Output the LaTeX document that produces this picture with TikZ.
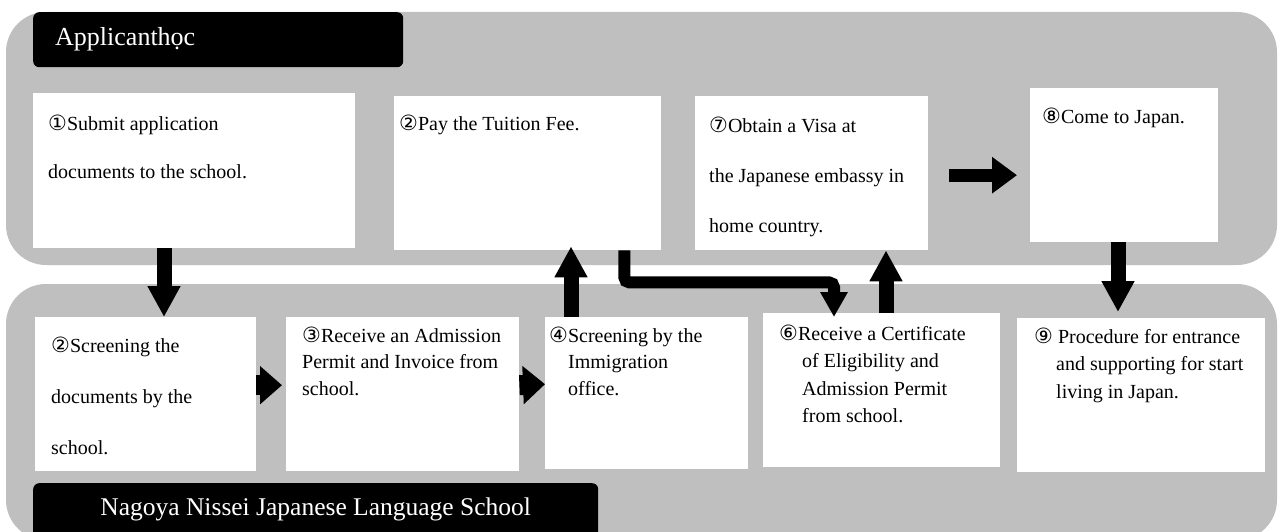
\documentclass[tikz,border=0pt]{standalone}
\usepackage{fontspec}
\setmainfont{Liberation Serif}
\newfontfamily\circfont{DejaVu Sans}
\usepackage{xcolor}
\usepackage{tikz}
\usetikzlibrary{arrows.meta, positioning, calc}
\definecolor{panelgray}{HTML}{BFBFBF}
\newcommand\cn[1]{{\fontsize{21}{21}\circfont #1}}
% width, height, left pad, first baseline, baselineskip, setup, text
\newcommand\cardtext[7]{\parbox[c][#2pt][t]{#1pt}{\fontsize{20}{#5}\selectfont
    \leftskip=#3pt \rightskip=0pt plus 1fil #6\rule{0pt}{#4pt}#7}}
\tikzset{
    panel/.style={fill=panelgray, rounded corners=40pt},
    card/.style={fill=white, anchor=north west, inner sep=0pt},
    tag/.style={fill=black, text=white, anchor=north west, inner sep=0pt, rounded corners=6pt},
    bigarr/.style={-{Triangle[length=31pt, width=31pt]}, line width=15pt},
    smallarr/.style={-{Triangle[length=22pt, width=37pt]}, line width=20pt},
    medarr/.style={-{Triangle[length=25pt, width=35pt]}, line width=13pt},
    elbowarr/.style={-{Triangle[length=25pt, width=26pt]}, line width=12pt, rounded corners=5pt}
}
\begin{document}
\begin{tikzpicture}[x=1pt, y=-1pt]
    \useasboundingbox (0,0) rectangle (1278,532);
    \clip (0,0) rectangle (1278,532);
    \fill[panel] (6,12) rectangle (1277,265);
    \fill[panel] (6,284) rectangle (1277,540);
    \node[tag] (appl) at (33,12) {\cardtext{370}{55}{22}{33}{30}{\fontsize{26}{30}\selectfont}{Applicanthọc}};
    \node[tag] (school) at (33,483) {\cardtext{565}{62}{0}{32}{30}{\fontsize{25.5}{30}\selectfont
        \leftskip=0pt plus 1fil\rightskip=0pt plus 1fil\parfillskip=0pt}{Nagoya Nissei Japanese Language School}};
    \node[card] (sub) at (33,93) {\cardtext{322}{155}{15}{37}{48}{}{\cn{①}Submit application\\documents to the school.}};
    \node[card] (pay) at (394,96) {\cardtext{267}{154}{5}{34}{48}{}{\cn{②}Pay the Tuition Fee.}};
    \node[card] (visa) at (695,96) {\cardtext{233}{154}{14}{36}{50}{}{\cn{⑦}Obtain a Visa at\\the Japanese embassy in\\home country.}};
    \node[card] (come) at (1030,88) {\cardtext{188}{154}{12}{35}{48}{}{\cn{⑧}Come to Japan.}};
    \node[card] (scr) at (35,317) {\cardtext{221}{154}{16}{35}{51}{}{\cn{②}Screening the\\documents by the\\school.}};
    \node[card] (rcv) at (286,317) {\cardtext{233}{154}{16}{25}{26.5}{}{\cn{③}Receive an Admission\\Permit and Invoice from\\school.}};
    \node[card] (imm) at (545,317) {\cardtext{203}{152}{4}{25}{26.5}{\hangindent=19pt\hangafter=1 }{\cn{④}Screening by the\\Immigration\\office.}};
    \node[card] (cert) at (763,313) {\cardtext{237}{154}{16}{27}{27.5}{\hangindent=23pt\hangafter=1 }{\cn{⑥}Receive a Certificate\\of Eligibility and\\Admission Permit\\from school.}};
    \node[card] (proc) at (1017,318) {\cardtext{248}{154}{17}{25}{27.5}{\hangindent=22pt\hangafter=1 }{\cn{⑨} Procedure for entrance\\and supporting for start\\living in Japan.}};
    \draw[bigarr] ([xshift=131pt]sub.south west) -- ([xshift=129pt]scr.north west);
    \draw[smallarr] ([yshift=9pt]scr.east) -- ([xshift=-4pt, yshift=9pt]rcv.west);
    \draw[smallarr] ([yshift=9pt]rcv.east) -- ([yshift=9pt]imm.west);
    \draw[bigarr] ([xshift=26pt]imm.north west) -- ([xshift=177pt, yshift=4pt]pay.south west);
    \draw[elbowarr] ([xshift=-37pt]pay.south east) -- ++(0,32) -| ([xshift=71pt, yshift=-4pt]cert.north west);
    \draw[bigarr] ([xshift=123pt]cert.north west) -- ([xshift=191pt]visa.south west);
    \draw[medarr] ([xshift=21pt, yshift=-2pt]visa.east) -- ([xshift=-13pt, yshift=-10pt]come.west);
    \draw[bigarr] ([xshift=88pt]come.south west) -- ([xshift=101pt, yshift=6pt]proc.north west);
\end{tikzpicture}
\end{document}
